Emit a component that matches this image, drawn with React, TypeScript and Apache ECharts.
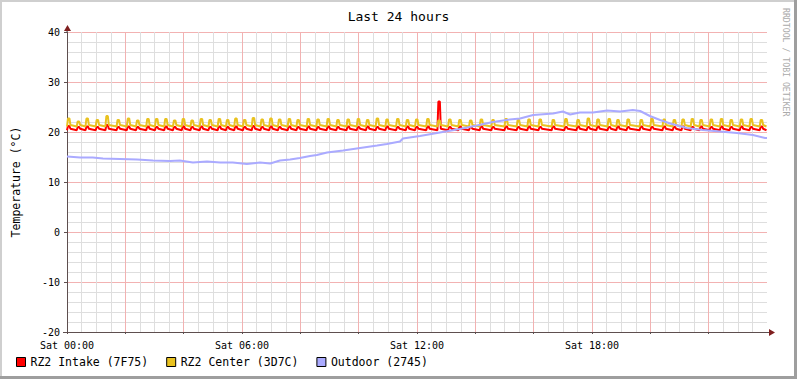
import React, { useEffect, useRef } from "react";
import * as echarts from "echarts";

// time in minutes since Sat 00:00
const spikeMinutes = [
  1, 21, 39, 60, 80, 103, 124, 143, 164, 182, 201, 219, 237, 255, 274, 292, 311, 328, 345, 363, 381, 399,
  417, 435, 455, 473, 494, 514, 535, 555, 576, 597, 616, 636, 656, 678, 698, 717, 740, 763,
  785, 806, 828, 850, 874, 901, 926, 948,
  971, 998, 1024, 1049, 1070, 1090, 1113, 1131, 1152,
  1179, 1201, 1226, 1247, 1265, 1284, 1302, 1323, 1344, 1364, 1385, 1405, 1426,
];
const centerPeaks = [
  22.7, 22.1, 22.7, 22.4, 23.2, 22.4, 22.7, 22.3, 22.6, 22.6, 22.6, 22.3, 22.6, 22.3, 22.6, 22.4, 22.6, 22.4, 22.7, 22.4, 22.8, 22.5,
  22.7, 22.5, 22.6, 22.4, 22.6, 22.5, 22.6, 22.4, 22.5, 22.6, 22.4, 22.7, 22.5, 22.6, 22.4, 22.5, 22.6, 22.3,
  22.5, 22.4, 22.3, 22.5, 22.4, 22.6, 22.4, 22.5,
  22.5, 22.4, 22.6, 22.4, 22.7, 22.5, 22.6, 22.4, 22.5,
  22.4, 22.6, 22.5, 22.4, 22.5, 22.6, 22.4, 22.5, 22.6, 22.4, 22.5, 22.6, 22.4,
];
const intakePeaks = [
  21.2, 21.0, 21.1, 21.0, 21.4, 21.0, 21.1, 21.0, 21.1, 21.0, 21.1, 21.0, 21.1, 21.0, 21.1, 21.0, 21.1, 21.0, 21.1, 21.0, 21.2, 21.0,
  21.1, 21.0, 21.1, 21.0, 21.1, 21.0, 21.1, 21.0, 21.1, 21.0, 21.1, 21.0, 21.1, 21.0, 21.1, 21.0, 21.1, 26.1,
  21.0, 21.1, 21.0, 21.1, 21.0, 21.1, 21.0, 21.1,
  21.0, 21.1, 21.0, 21.1, 21.0, 21.1, 21.0, 21.1, 21.0,
  21.1, 21.0, 21.1, 21.0, 21.1, 21.0, 21.1, 21.0, 21.1, 21.0, 21.1, 21.0, 21.1,
];
const centerBase = 21.1;
const centerAfter = 21.4;
const intakeBase = 20.35;
const intakeAfter = 20.65;

const outdoorMinutes = [
  0, 27, 53, 74, 109, 144, 177, 212, 232, 259, 288, 315, 341, 370, 397, 418, 438, 459, 479, 500,
  514, 535, 568, 603, 638, 658, 685, 691, 726, 773, 808, 843, 876, 911, 932, 959, 1000, 1020, 1035,
  1055, 1082, 1111, 1138, 1164, 1179, 1199, 1220, 1241, 1275, 1308, 1343, 1378, 1411, 1436, 1440,
];
const outdoorValues = [
  15.1, 14.9, 14.9, 14.7, 14.6, 14.5, 14.3, 14.2, 14.3, 13.9, 14.1, 13.9, 13.9, 13.6, 13.9, 13.7, 14.3, 14.5, 14.8, 15.2,
  15.4, 15.9, 16.3, 16.8, 17.3, 17.6, 18.1, 18.7, 19.2, 20.0, 20.6, 21.3, 22.0, 22.5, 22.7, 23.4, 23.7, 24.1, 23.5,
  23.9, 23.9, 24.3, 24.1, 24.4, 24.2, 23.2, 22.4, 21.7, 20.8, 20.4, 20.1, 19.8, 19.4, 18.8, 18.8,
];

const xLabels = ["Sat 00:00", "Sat 06:00", "Sat 12:00", "Sat 18:00"];
const seriesNames = ["RZ2 Intake (7F75)", "RZ2 Center (3D7C)", "Outdoor (2745)"];
const seriesColors = ["#FF0000", "#E9C21F", "#AAAAFF"];

function buildPulse(peaks: number[], base: number, after: number): number[][] {
  const pts: number[][] = [[0, base]];
  spikeMinutes.forEach((t, i) => {
    const next = i + 1 < spikeMinutes.length ? spikeMinutes[i + 1] : 1440;
    pts.push([t, base], [t + 1, peaks[i]], [t + 4, peaks[i]], [t + 6, after], [next - 1, base]);
  });
  pts.push([1440, base]);
  return pts;
}

const FONT = "DejaVu Sans Mono";

export default function App() {
  const ref = useRef<HTMLDivElement>(null);
  useEffect(() => {
    if (!ref.current) return;
    const chart = echarts.init(ref.current, undefined, { renderer: "svg" });
    const intake = buildPulse(intakePeaks, intakeBase, intakeAfter);
    const center = buildPulse(centerPeaks, centerBase, centerAfter);
    const outdoor = outdoorMinutes.map((m, i) => [m, outdoorValues[i]]);
    chart.setOption({
      animation: false,
      backgroundColor: "#FFFFFF",
      title: {
        text: "Last 24 hours",
        left: "center",
        top: 5,
        textStyle: { fontFamily: FONT, fontSize: 13, fontWeight: "normal", color: "#000" },
      },
      legend: {
        left: 16,
        top: 356,
        padding: 0,
        icon: "rect",
        itemWidth: 9,
        itemHeight: 9,
        itemGap: 18,
        data: seriesNames,
        textStyle: { fontFamily: FONT, fontSize: 11.5, color: "#000" },
        itemStyle: { borderColor: "#000", borderWidth: 1 },
      },
      grid: { left: 67, top: 32, width: 700, height: 300, containLabel: false },
      xAxis: {
        type: "value",
        min: 0,
        max: 1440,
        interval: 120,
        axisLine: { show: true, onZero: false, lineStyle: { color: "#5E4F4F", width: 1 } },
        axisTick: { show: true, length: 2, lineStyle: { color: "#5E4F4F" } },
        axisLabel: {
          margin: 8,
          fontFamily: FONT,
          fontSize: 10,
          color: "#000",
          showMaxLabel: false,
          formatter: (v: number) => (v % 360 === 0 && v < 1440 ? xLabels[v / 360] : ""),
        },
        splitLine: { show: true, showMaxLine: false, lineStyle: { color: "#F2B2B2", width: 1 } },
        minorTick: { show: false, splitNumber: 4 },
        minorSplitLine: { show: true, lineStyle: { color: "#DEDEDE", width: 1 } },
      },
      yAxis: {
        type: "value",
        min: -20,
        max: 40,
        interval: 10,
        name: "Temperature (°C)",
        nameLocation: "middle",
        nameGap: 45,
        nameRotate: 90,
        nameTextStyle: { fontFamily: FONT, fontSize: 11.5, color: "#000" },
        axisLine: { show: true, onZero: false, lineStyle: { color: "#5E4F4F", width: 1 } },
        axisTick: { show: true, length: 3, lineStyle: { color: "#5E4F4F" } },
        axisLabel: { margin: 7, fontFamily: FONT, fontSize: 10, color: "#000" },
        splitLine: { show: true, lineStyle: { color: "#F2B2B2", width: 1 } },
        minorTick: { show: false, splitNumber: 5 },
        minorSplitLine: { show: true, lineStyle: { color: "#DEDEDE", width: 1 } },
      },
      series: [
        {
          name: seriesNames[0],
          type: "line",
          data: intake,
          showSymbol: false,
          symbol: "none",
          color: seriesColors[0],
          itemStyle: { color: seriesColors[0] },
          lineStyle: { width: 2, color: seriesColors[0] },
        },
        {
          name: seriesNames[1],
          type: "line",
          data: center,
          showSymbol: false,
          symbol: "none",
          color: seriesColors[1],
          itemStyle: { color: seriesColors[1] },
          lineStyle: { width: 2, color: seriesColors[1] },
        },
        {
          name: seriesNames[2],
          type: "line",
          data: outdoor,
          showSymbol: false,
          symbol: "none",
          color: seriesColors[2],
          itemStyle: { color: seriesColors[2] },
          lineStyle: { width: 2, color: seriesColors[2] },
        },
      ],
      graphic: [
        { type: "rect", shape: { x: 0, y: 0, width: 797, height: 2 }, style: { fill: "#CFCFCF" }, silent: true },
        { type: "rect", shape: { x: 0, y: 0, width: 2, height: 379 }, style: { fill: "#CFCFCF" }, silent: true },
        { type: "rect", shape: { x: 794, y: 0, width: 3, height: 379 }, style: { fill: "#9E9E9E" }, silent: true },
        { type: "rect", shape: { x: 0, y: 376, width: 797, height: 3 }, style: { fill: "#9E9E9E" }, silent: true },
        { type: "line", shape: { x1: 67, y1: 32, x2: 67, y2: 29 }, style: { stroke: "#5E4F4F", lineWidth: 1 }, silent: true },
        { type: "line", shape: { x1: 63, y1: 332.5, x2: 67, y2: 332.5 }, style: { stroke: "#5E4F4F", lineWidth: 1 }, silent: true },
        { type: "line", shape: { x1: 767, y1: 332.5, x2: 770, y2: 332.5 }, style: { stroke: "#5E4F4F", lineWidth: 1 }, silent: true },
        { type: "polygon", shape: { points: [[64, 31], [67.5, 25], [71, 31]] }, style: { fill: "#7F1F1F" }, silent: true },
        { type: "polygon", shape: { points: [[769, 329], [775, 332.5], [769, 336]] }, style: { fill: "#7F1F1F" }, silent: true },
        {
          type: "text",
          x: 785.5,
          y: 8,
          rotation: -Math.PI / 2,
          silent: true,
          style: {
            text: "RRDTOOL / TOBI OETIKER",
            fontFamily: FONT,
            fontSize: 8.2,
            fill: "#AAAAAA",
            align: "left",
            verticalAlign: "middle",
            textAlign: "left",
            textVerticalAlign: "middle",
          },
        },
      ],
    });
    return () => chart.dispose();
  }, []);
  return (
    <div
      ref={ref}
      style={{ position: "fixed", left: 0, top: 0, width: 797, height: 379 }}
    />
  );
}
